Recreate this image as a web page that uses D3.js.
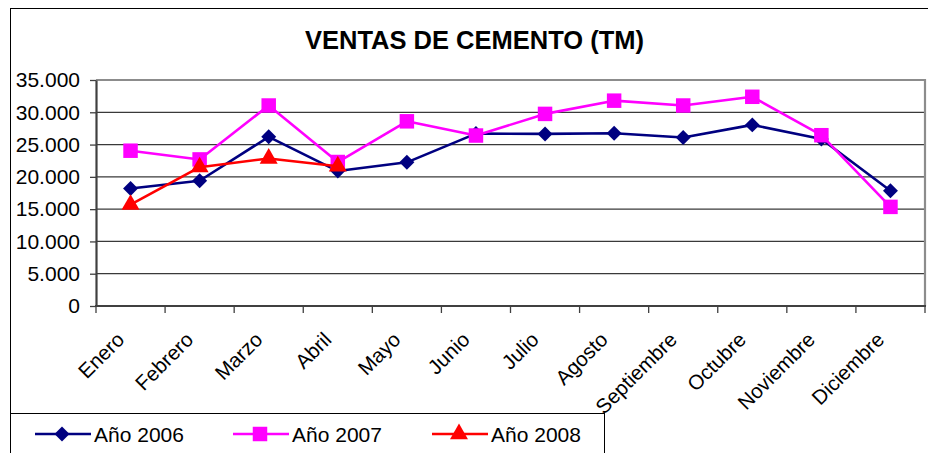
<!DOCTYPE html>
<html>
<head>
<meta charset="utf-8">
<script src="https://cdn.jsdelivr.net/npm/d3@7/dist/d3.min.js"></script>
<style>
  html, body { margin: 0; padding: 0; background: #fff; }
  svg { display: block; }
  text { font-family: "Liberation Sans", Arial, sans-serif; fill: #000; }
</style>
</head>
<body>
<svg id="chart" width="928" height="453"></svg>
<script>
const months = ["Enero","Febrero","Marzo","Abril","Mayo","Junio","Julio","Agosto","Septiembre","Octubre","Noviembre","Diciembre"];
const ventas2006 = [18200, 19400, 26200, 20900, 22250, 26700, 26650, 26750, 26100, 28050, 25850, 17850];
const ventas2007 = [24050, 22700, 31050, 22300, 28600, 26400, 29750, 31800, 31050, 32400, 26450, 15350];
const ventas2008 = [15700, 21500, 22850, 21650];
const yTicks = [0, 5000, 10000, 15000, 20000, 25000, 30000, 35000];
const title = "VENTAS DE CEMENTO (TM)";
const seriesNames = ["Año 2006", "Año 2007", "Año 2008"];

const series = [
  { name: seriesNames[0], values: ventas2006, color: "#000080", marker: "diamond" },
  { name: seriesNames[1], values: ventas2007, color: "#FF00FF", marker: "square" },
  { name: seriesNames[2], values: ventas2008, color: "#FF0000", marker: "triangle" }
];
const markerDef = {
  diamond: { type: d3.symbolSquare, size: 112, rot: 45 },
  square: { type: d3.symbolSquare, size: 210, rot: 0 },
  triangle: { type: d3.symbolTriangle, size: 140, rot: 0 }
};

const svg = d3.select("#chart");
const L = 96, R = 925, T = 80, B = 306;

const x = d3.scaleBand().domain(months).range([L, R]);
const y = d3.scaleLinear().domain([0, 35000]).range([B, T]);
const fmt = d3.formatLocale({ decimal: ",", thousands: ".", grouping: [3], currency: ["", ""] }).format(",");

// outer frame
svg.append("rect").attr("x", 10.5).attr("y", 8.5).attr("width", 940).attr("height", 460)
  .attr("fill", "#fff").attr("stroke", "#000").attr("stroke-width", 1);

// title
svg.append("text").attr("x", 474.5).attr("y", 49).attr("text-anchor", "middle")
  .attr("font-size", "25.5px").attr("font-weight", "bold").text(title);

// gridlines
svg.append("g").selectAll("line").data(yTicks.filter(v => v > 0 && v < 35000)).join("line")
  .attr("x1", L).attr("x2", R).attr("y1", d => y(d)).attr("y2", d => y(d))
  .attr("stroke", "#3a3a3a").attr("stroke-width", 1.3);

// plot border top/right
svg.append("path")
  .attr("d", `M${L},${y(35000)}H${R}V${B}`)
  .attr("fill", "none").attr("stroke", "#8c8c8c").attr("stroke-width", 2.2);

// y axis
const yAxis = svg.append("g").attr("transform", `translate(${L},0)`)
  .call(d3.axisLeft(y).tickValues(yTicks).tickFormat(fmt).tickSize(6).tickSizeOuter(0).tickPadding(10));
yAxis.select(".domain").attr("stroke", "#404040").attr("stroke-width", 2.2);
yAxis.selectAll(".tick line").attr("stroke", "#404040").attr("stroke-width", 1.3);
yAxis.selectAll("text").attr("font-size", "21px").attr("font-family", "Liberation Sans, Arial, sans-serif").attr("fill", "#000");

// x axis line + ticks at band boundaries
const bounds = months.map(m => x(m)).concat([R]);
svg.append("line").attr("x1", L - 1).attr("x2", R + 1).attr("y1", B).attr("y2", B)
  .attr("stroke", "#404040").attr("stroke-width", 2.2);
svg.append("g").selectAll("line").data(bounds).join("line")
  .attr("x1", d => d).attr("x2", d => d).attr("y1", B).attr("y2", B + 7)
  .attr("stroke", "#404040").attr("stroke-width", 1.3);

// x labels
svg.append("g").selectAll("text").data(months).join("text")
  .attr("transform", d => `translate(${x(d) + x.bandwidth() / 2 - 5},341) rotate(-45)`)
  .attr("text-anchor", "end").attr("font-size", "20.5px").text(d => d);

// series
const cx = (d, i) => x(months[i]) + x.bandwidth() / 2;
series.forEach(s => {
  const m = markerDef[s.marker];
  const line = d3.line().x((d, i) => cx(d, i)).y(d => y(d));
  svg.append("path").datum(s.values).attr("d", line)
    .attr("fill", "none").attr("stroke", s.color).attr("stroke-width", 2.6).attr("stroke-linejoin", "round");
  svg.append("g").selectAll("path").data(s.values).join("path")
    .attr("transform", (d, i) => `translate(${cx(d, i)},${y(d)}) rotate(${m.rot})`)
    .attr("d", d3.symbol().type(m.type).size(m.size))
    .attr("fill", s.color);
});

// legend
svg.append("rect").attr("x", 10.5).attr("y", 413.5).attr("width", 594).attr("height", 60)
  .attr("fill", "#fff").attr("stroke", "#000").attr("stroke-width", 1);
const legX = [35, 233, 432];
series.forEach((s, i) => {
  const m = markerDef[s.marker];
  const g = svg.append("g").attr("transform", `translate(${legX[i]},434)`);
  g.append("line").attr("x1", 0).attr("x2", 56).attr("y1", 0).attr("y2", 0)
    .attr("stroke", s.color).attr("stroke-width", 2.6);
  g.append("path").attr("transform", `translate(27,0) rotate(${m.rot})`)
    .attr("d", d3.symbol().type(m.type).size(m.size)).attr("fill", s.color);
  g.append("text").attr("x", 59).attr("y", 7.5).attr("font-size", "21px").text(s.name);
});
</script>
</body>
</html>
